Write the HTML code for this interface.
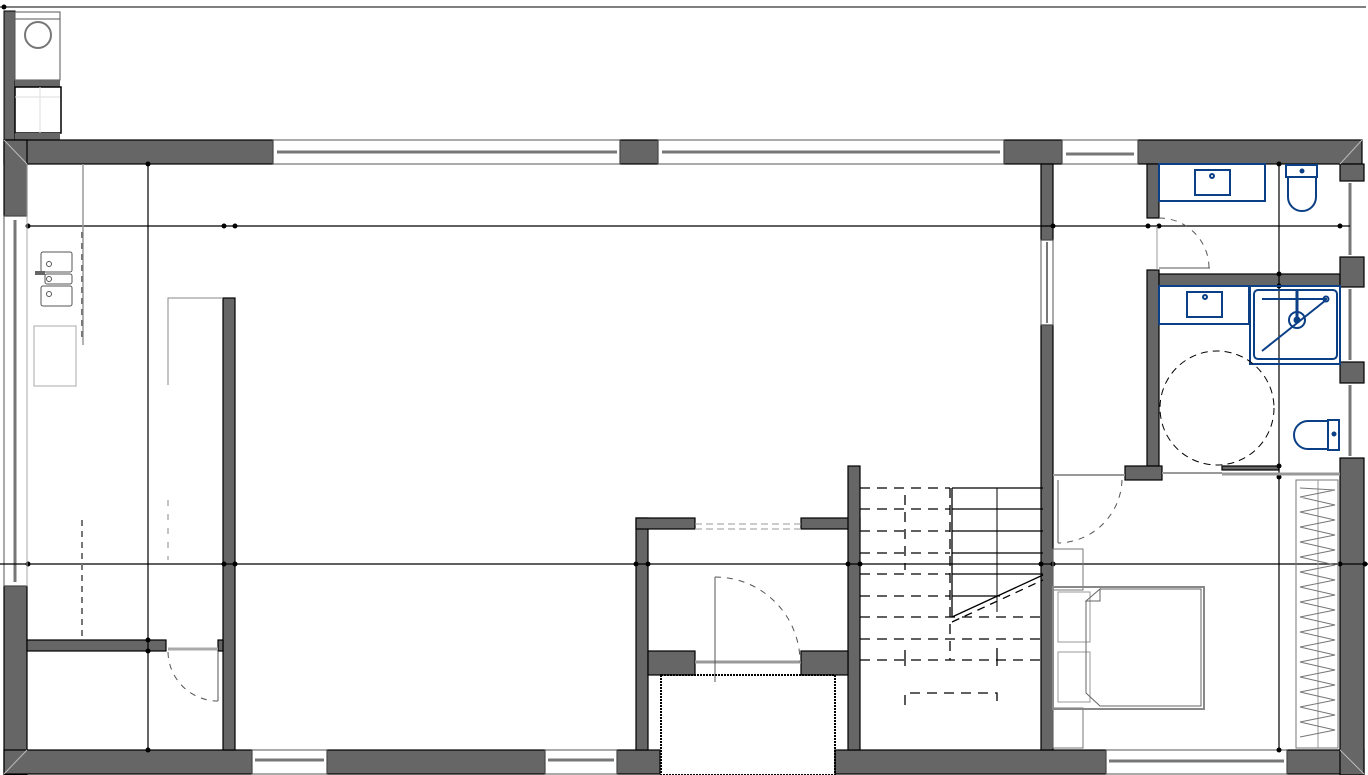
<!DOCTYPE html>
<html><head><meta charset="utf-8"><style>html,body{margin:0;padding:0;background:#fff}svg{display:block}</style></head><body>
<svg width="1368" height="775" viewBox="0 0 1368 775" xmlns="http://www.w3.org/2000/svg">
<rect width="1368" height="775" fill="#fff"/>
<line x1="0" y1="7" x2="1366" y2="7" stroke="#000" stroke-width="1"/>
<circle cx="4" cy="7" r="2.5"/>
<rect x="4" y="11" width="11" height="129" fill="#666" stroke="#000"/>
<rect x="15" y="12" width="45" height="7" fill="#fff" stroke="#555"/>
<rect x="15" y="19" width="45" height="61" fill="#fff" stroke="#555"/>
<circle cx="38" cy="35" r="13" fill="none" stroke="#777" stroke-width="2"/>
<rect x="15" y="80" width="45" height="7" fill="#666"/>
<rect x="15" y="87" width="46" height="46" fill="#fff" stroke="#000" stroke-width="1.5"/>
<line x1="40" y1="87" x2="40" y2="133" stroke="#ddd"/>
<line x1="15" y1="97" x2="60" y2="97" stroke="#ddd"/>
<rect x="15" y="133" width="45" height="7" fill="#666"/>

<g fill="#666" stroke="#000" stroke-width="1.2">
<rect x="4" y="140" width="269" height="24"/>
<rect x="4" y="140" width="23" height="76"/>
<rect x="620" y="140" width="38" height="24"/>
<rect x="1004" y="140" width="58" height="24"/>
<rect x="1138" y="140" width="224" height="24"/>
<rect x="4" y="586" width="23" height="189"/>
<rect x="4" y="750" width="248" height="24"/>
<rect x="327" y="750" width="218" height="24"/>
<rect x="617" y="750" width="43" height="24"/>
<rect x="835" y="750" width="271" height="24"/>
<rect x="1287" y="750" width="77" height="24"/>
<rect x="223" y="298" width="12" height="452"/>
<rect x="27" y="640" width="139" height="11"/>
<rect x="218" y="640" width="5" height="11"/>
<rect x="636" y="518" width="12" height="232"/>
<rect x="636" y="518" width="59" height="11"/>
<rect x="801" y="518" width="59" height="11"/>
<rect x="848" y="466" width="12" height="284"/>
<rect x="648" y="651" width="47" height="24"/>
<rect x="801" y="651" width="47" height="24"/>
<rect x="1041" y="164" width="12" height="76"/>
<rect x="1041" y="325" width="12" height="425"/>
<rect x="1147" y="164" width="12" height="54"/>
<rect x="1147" y="270" width="12" height="196"/>
<rect x="1159" y="274" width="181" height="12"/>
<rect x="1125" y="466" width="37" height="14"/>
<rect x="1222" y="466" width="57" height="4"/>
<rect x="1340" y="164" width="24" height="17"/>
<rect x="1340" y="257" width="24" height="30"/>
<rect x="1340" y="362" width="24" height="21"/>
<rect x="1340" y="458" width="24" height="317"/>
</g>
<g fill="none" stroke="#777">
<rect x="273" y="140" width="347" height="24" stroke="#555"/>
<line x1="277" y1="152" x2="617" y2="152" stroke-width="3"/>
<rect x="658" y="140" width="346" height="24" stroke="#555"/>
<line x1="662" y1="152" x2="1000" y2="152" stroke-width="3"/>
<rect x="1062" y="140" width="76" height="24" stroke="#555"/>
<line x1="1066" y1="154" x2="1134" y2="154" stroke-width="3"/>
<rect x="4" y="216" width="23" height="370" stroke="#555"/>
<line x1="15" y1="220" x2="15" y2="582" stroke-width="3"/>
<rect x="252" y="750" width="75" height="24" stroke="#555"/>
<line x1="255" y1="760" x2="324" y2="760" stroke-width="3"/>
<rect x="545" y="750" width="72" height="24" stroke="#555"/>
<line x1="548" y1="760" x2="614" y2="760" stroke-width="3"/>
<rect x="1106" y="750" width="181" height="24" stroke="#555"/>
<line x1="1109" y1="761" x2="1284" y2="761" stroke-width="3"/>
<line x1="1350" y1="183" x2="1350" y2="255" stroke-width="3"/>
<line x1="1350" y1="289" x2="1350" y2="360" stroke-width="3"/>
<line x1="1350" y1="385" x2="1350" y2="456" stroke-width="3"/>
<rect x="1041" y="240" width="12" height="85" stroke="#555"/>
<line x1="1047" y1="242" x2="1047" y2="323" stroke-width="2"/>
</g>
<g stroke="#000" stroke-width="1.2">
<line x1="27" y1="226" x2="1350" y2="226"/>
<line x1="0" y1="564" x2="1368" y2="564"/>
<line x1="148" y1="164" x2="148" y2="750"/>
<line x1="1279" y1="164" x2="1279" y2="750"/>
</g>
<g fill="#000">
<circle cx="148" cy="164" r="2.5"/><circle cx="28" cy="226" r="2.5"/><circle cx="224" cy="226" r="2.5"/><circle cx="235" cy="226" r="2.5"/>
<circle cx="1148" cy="226" r="2.5"/><circle cx="1159" cy="226" r="2.5"/><circle cx="1340" cy="226" r="2.5"/><circle cx="1053" cy="226" r="2.5"/>
<circle cx="1279" cy="164" r="2.5"/><circle cx="1279" cy="274" r="2.5"/><circle cx="1279" cy="286" r="2.5"/><circle cx="1279" cy="466" r="2.5"/><circle cx="1279" cy="477" r="2.5"/><circle cx="1279" cy="750" r="2.5"/>
<circle cx="28" cy="564" r="2.5"/><circle cx="224" cy="564" r="2.5"/><circle cx="235" cy="564" r="2.5"/><circle cx="636" cy="564" r="2.5"/><circle cx="648" cy="564" r="2.5"/><circle cx="848" cy="564" r="2.5"/><circle cx="860" cy="564" r="2.5"/><circle cx="1041" cy="564" r="2.5"/><circle cx="1053" cy="564" r="2.5"/><circle cx="1340" cy="564" r="2.5"/><circle cx="1365" cy="564" r="2.5"/>
<circle cx="148" cy="640" r="2.5"/><circle cx="148" cy="651" r="2.5"/><circle cx="148" cy="750" r="2.5"/>
</g>
<g fill="none" stroke="#555">
<rect x="41" y="252" width="31" height="20" rx="2"/>
<rect x="45" y="274" width="27" height="10" rx="2"/>
<rect x="41" y="286" width="31" height="20" rx="2"/>
<circle cx="49" cy="264" r="2.5"/><circle cx="49" cy="279" r="2.5"/><circle cx="49" cy="294" r="2.5"/>
<rect x="34" y="326" width="42" height="60" stroke="#aaa"/>
<line x1="83" y1="164" x2="83" y2="345" stroke="#999" stroke-width="1.5"/>
<line x1="82" y1="232" x2="82" y2="342" stroke="#777" stroke-width="2" stroke-dasharray="6,5"/>
<polyline points="168,385 168,298 223,298" stroke="#888"/>
<line x1="168" y1="500" x2="168" y2="560" stroke="#888" stroke-dasharray="6,8"/>
<line x1="82" y1="520" x2="82" y2="640" stroke="#777" stroke-width="2" stroke-dasharray="6,5"/>
<line x1="27" y1="164" x2="27" y2="586" stroke="#aaa"/>
</g>
<rect x="35" y="271" width="10" height="4" fill="#666"/>
<g fill="none" stroke="#555">
<line x1="168" y1="649" x2="218" y2="649" stroke="#aaa" stroke-width="3"/>
<path d="M168 652 A50 50 0 0 0 218 701" stroke-dasharray="6,6"/>
<line x1="218" y1="651" x2="218" y2="701"/>
</g>
<g fill="none" stroke="#555">
<line x1="695" y1="524" x2="801" y2="524" stroke="#999" stroke-dasharray="7,4"/>
<line x1="695" y1="529" x2="801" y2="529" stroke="#999" stroke-dasharray="7,4"/>
<line x1="695" y1="662" x2="801" y2="662" stroke="#999" stroke-width="3"/>
<polyline points="715,682 715,577"/>
<path d="M715 577 A85 85 0 0 1 800 662" stroke-dasharray="6,6"/>
<rect x="661" y="675" width="174" height="100" stroke="#000" stroke-width="2" stroke-dasharray="2,1"/>
</g>
<g stroke="#000" stroke-width="1.3" fill="none">
<g stroke-dasharray="10,7">
<line x1="860" y1="488" x2="950" y2="488"/><line x1="860" y1="509" x2="950" y2="509"/><line x1="860" y1="531" x2="950" y2="531"/><line x1="860" y1="553" x2="950" y2="553"/><line x1="860" y1="574" x2="950" y2="574"/><line x1="860" y1="596" x2="950" y2="596"/><line x1="860" y1="617" x2="1043" y2="617"/><line x1="860" y1="639" x2="1043" y2="639"/><line x1="860" y1="660" x2="1043" y2="660"/>
<line x1="950" y1="488" x2="950" y2="660"/>
<polyline points="905,705 905,693 997,693 997,705"/>
<line x1="905" y1="495" x2="905" y2="570"/>
</g>
<line x1="952" y1="488" x2="1043" y2="488"/><line x1="952" y1="509" x2="1043" y2="509"/><line x1="952" y1="531" x2="1043" y2="531"/><line x1="952" y1="553" x2="1043" y2="553"/><line x1="952" y1="574" x2="1043" y2="574"/><line x1="952" y1="596" x2="1000" y2="596"/>
<line x1="952" y1="488" x2="952" y2="617"/>
<line x1="997" y1="488" x2="997" y2="612" stroke-width="1"/>
<line x1="952" y1="617" x2="1043" y2="575"/>
<line x1="952" y1="622" x2="1043" y2="580" stroke-dasharray="8,6"/>
<line x1="905" y1="650" x2="905" y2="666"/><line x1="997" y1="648" x2="997" y2="666"/>
</g>
<g fill="none" stroke="#0b3f86" stroke-width="2">
<rect x="1159" y="164" width="106" height="37"/>
<rect x="1195" y="170" width="35" height="25"/>
<circle cx="1212" cy="176" r="2"/>
<path d="M1286 165 h31 v12 h-31z"/>
<path d="M1288 177 v20 a14 14 0 0 0 28 0 v-20"/>
<rect x="1159" y="286" width="90" height="38"/>
<rect x="1187" y="292" width="35" height="25"/>
<circle cx="1205" cy="297" r="2"/>
<rect x="1250" y="286" width="90" height="78"/>
<rect x="1254" y="290" width="83" height="69" rx="4"/>
<line x1="1262" y1="299" x2="1327" y2="299"/>
<line x1="1262" y1="351" x2="1326" y2="300"/>
<circle cx="1297" cy="320" r="8"/>
<line x1="1297" y1="290" x2="1297" y2="318" stroke-width="3"/>
<circle cx="1326" cy="299" r="2.5"/>
<path d="M1328 420 h11 v30 h-11z"/>
<path d="M1328 421 h-20 a14 14 0 0 0 0 28 h20"/>
</g>
<g fill="#0b3f86"><circle cx="1302" cy="171" r="2.5"/><circle cx="1334" cy="434" r="2.5"/><circle cx="1297" cy="320" r="3.5"/></g>
<circle cx="1217" cy="408" r="57" fill="none" stroke="#000" stroke-dasharray="7,5"/>
<g fill="none" stroke="#555">
<line x1="1157" y1="226" x2="1157" y2="270" stroke="#999"/>
<line x1="1159" y1="268" x2="1210" y2="268"/>
<path d="M1159 218 A50 50 0 0 1 1209 268" stroke-dasharray="6,6"/>
<line x1="1162" y1="473" x2="1222" y2="473" stroke="#999" stroke-width="2"/>
<line x1="1222" y1="474" x2="1340" y2="474" stroke="#999" stroke-width="3"/>
<line x1="1053" y1="475" x2="1125" y2="475" stroke="#999" stroke-width="2"/>
<line x1="1058" y1="480" x2="1058" y2="543"/>
<path d="M1122 480 A65 65 0 0 1 1058 543" stroke-dasharray="6,6"/>
<rect x="1053" y="549" width="30" height="41" stroke="#777"/>
<rect x="1053" y="708" width="30" height="40" stroke="#777"/>
<rect x="1053" y="587" width="151" height="122" stroke="#888" stroke-width="2"/>
<rect x="1058" y="592" width="32" height="50" stroke="#999"/>
<rect x="1058" y="652" width="32" height="50" stroke="#999"/>
<path d="M1086 601 l14 -12 v12z M1086 601 v92 l14 13 h101 v-117 h-101" stroke="#666"/>
<rect x="1296" y="480" width="42" height="268" stroke="#777"/>
<line x1="1318" y1="480" x2="1318" y2="748" stroke="#999"/>
<polyline stroke="#777" points="1300,488 1335,490 1300,497 1335,505 1300,512 1335,520 1300,527 1335,535 1300,542 1335,550 1300,557 1335,565 1300,572 1335,580 1300,587 1335,595 1300,602 1335,610 1300,617 1335,625 1300,632 1335,640 1300,647 1335,655 1300,662 1335,670 1300,677 1335,685 1300,692 1335,700 1300,707 1335,715 1300,722 1335,730 1300,737"/>
</g>
<g stroke="#bbb"><line x1="4" y1="140" x2="27" y2="164"/><line x1="1362" y1="140" x2="1340" y2="164"/><line x1="4" y1="774" x2="27" y2="750"/><line x1="1364" y1="774" x2="1340" y2="750"/></g>
</svg>
</body></html>
